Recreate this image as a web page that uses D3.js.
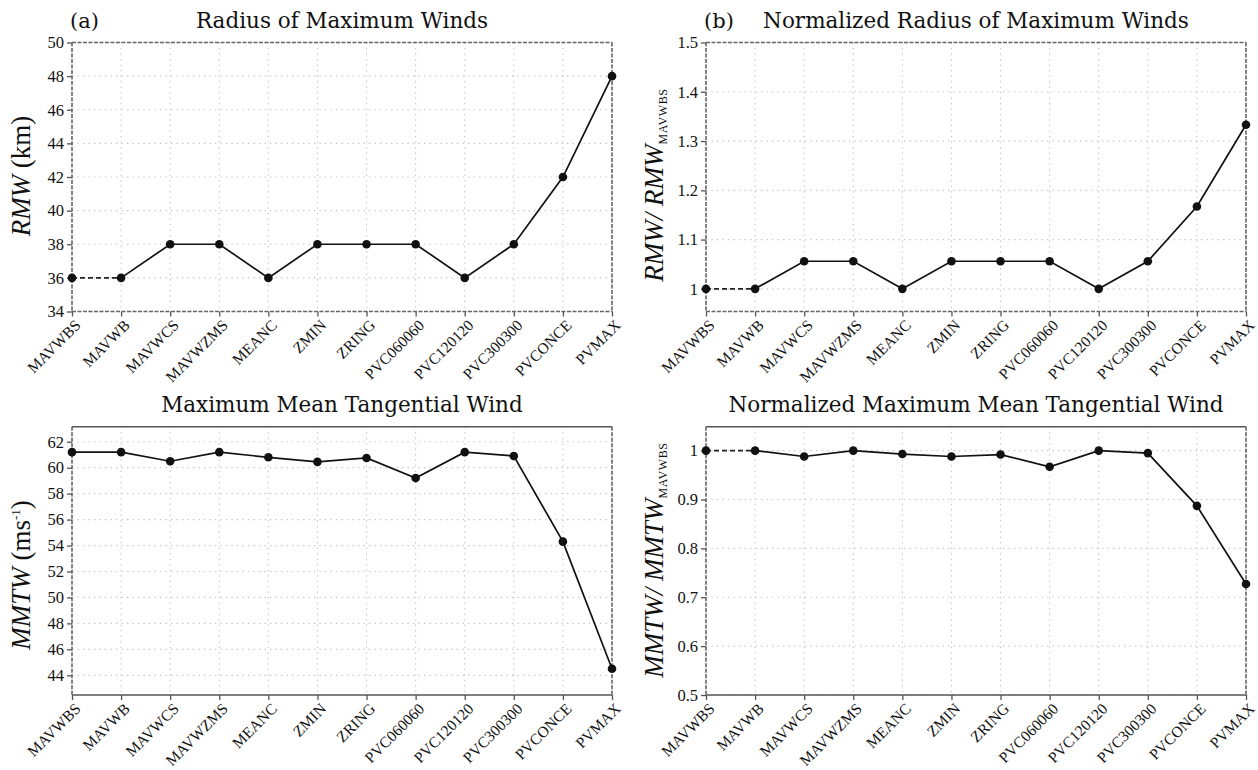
<!DOCTYPE html>
<html>
<head>
<meta charset="utf-8">
<script src="https://cdn.jsdelivr.net/npm/d3@7"></script>
<style>
  html, body { margin: 0; padding: 0; background: #fff; }
  svg { display: block; }
</style>
</head>
<body>
<svg id="chart" width="1258" height="770"></svg>
<script>
// Experiment names along the x axis
const experiments = ["MAVWBS", "MAVWB", "MAVWCS", "MAVWZMS", "MEANC", "ZMIN",
  "ZRING", "PVC060060", "PVC120120", "PVC300300", "PVCONCE", "PVMAX"];

// (a) radius of maximum winds, km
const rmw = [36, 36, 38, 38, 36, 38, 38, 38, 36, 38, 42, 48];
// (b) RMW normalised by the MAVWBS run
const rmwNorm = [1, 1, 1.056, 1.056, 1, 1.056, 1.056, 1.056, 1, 1.056, 1.167, 1.333];
// maximum mean tangential wind, m/s
const mmtw = [61.2, 61.2, 60.5, 61.2, 60.8, 60.45, 60.75, 59.2, 61.2, 60.9, 54.3, 44.5];
// MMTW normalised by the MAVWBS run
const mmtwNorm = [1, 1, 0.988, 1, 0.993, 0.988, 0.992, 0.967, 1, 0.995, 0.887, 0.727];

// y tick values per panel
const ticksA = [34, 36, 38, 40, 42, 44, 46, 48, 50];
const ticksB = [1, 1.1, 1.2, 1.3, 1.4, 1.5];
const ticksC = [44, 46, 48, 50, 52, 54, 56, 58, 60, 62];
const ticksD = [0.5, 0.6, 0.7, 0.8, 0.9, 1];

const svg = d3.select("#chart");
const serif = "'DejaVu Serif', serif";
const tickFont = "'Liberation Serif', 'Times New Roman', serif";

function panel(opt) {
  const g = svg.append("g");
  const x = d3.scalePoint().domain(experiments).range([opt.left, opt.right]);
  const y = d3.scaleLinear().domain(opt.domain).range([opt.bottom, opt.top]);

  // dotted grid
  g.append("g").selectAll("line").data(experiments).join("line")
    .attr("x1", d => x(d)).attr("x2", d => x(d))
    .attr("y1", opt.top).attr("y2", opt.bottom)
    .attr("stroke", "#c4c4c4").attr("stroke-width", 1.2)
    .attr("stroke-dasharray", "1.3,4.2");
  g.append("g").selectAll("line").data(opt.ticks).join("line")
    .attr("x1", opt.left).attr("x2", opt.right)
    .attr("y1", d => y(d)).attr("y2", d => y(d))
    .attr("stroke", "#c4c4c4").attr("stroke-width", 1.2)
    .attr("stroke-dasharray", "1.3,4.2");

  // axes
  const ya = g.append("g").attr("transform", `translate(${opt.left},0)`)
    .call(d3.axisLeft(y).tickValues(opt.ticks).tickSize(5).tickPadding(3)
      .tickFormat(d3.format("~g")));
  const xa = g.append("g").attr("transform", `translate(0,${opt.bottom})`)
    .call(d3.axisBottom(x).tickSize(5).tickFormat(""));
  [ya, xa].forEach(a => {
    a.select(".domain").remove();
    a.selectAll(".tick line").attr("stroke", "#555").attr("stroke-width", 1.3);
  });
  ya.selectAll(".tick text").attr("font-family", tickFont).attr("font-size", 16.5)
    .attr("fill", "#111");

  // rotated category labels
  g.append("g").selectAll("text").data(experiments).join("text")
    .attr("transform", d => `translate(${x(d) + 2},${opt.bottom + 7}) rotate(-45)`)
    .attr("text-anchor", "end").attr("dy", "0.7em")
    .attr("font-family", tickFont).attr("font-size", 15.5).attr("fill", "#111")
    .text(d => d);

  // frame
  const frame = (x1, y1, x2, y2, dashed) => g.append("line")
    .attr("x1", x1).attr("y1", y1).attr("x2", x2).attr("y2", y2)
    .attr("stroke", dashed ? "#666" : "#555").attr("stroke-width", 1.6)
    .attr("stroke-dasharray", dashed ? "4,1.5" : null);
  frame(opt.left, opt.top, opt.right, opt.top, opt.dashedTB);
  frame(opt.left, opt.bottom, opt.right, opt.bottom, opt.dashedTB);
  frame(opt.left, opt.top, opt.left, opt.bottom, true);
  frame(opt.right, opt.top, opt.right, opt.bottom, true);

  // series: the opening segment is drawn dashed in some panels
  const pts = opt.values.map((v, i) => [x(experiments[i]), y(v)]);
  const line = d3.line();
  const start = opt.dashedFirst ? 1 : 0;
  g.append("path").datum(pts.slice(start)).attr("d", line)
    .attr("fill", "none").attr("stroke", "#111").attr("stroke-width", 1.7);
  if (opt.dashedFirst) {
    g.append("path").datum(pts.slice(0, 2)).attr("d", line)
      .attr("fill", "none").attr("stroke", "#222").attr("stroke-width", 1.7)
      .attr("stroke-dasharray", "5,3");
  }
  g.append("g").selectAll("circle").data(pts).join("circle")
    .attr("cx", d => d[0]).attr("cy", d => d[1])
    .attr("r", 4.3).attr("fill", "#111");

  // title
  g.append("text").attr("x", (opt.left + opt.right) / 2).attr("y", opt.top - 15)
    .attr("text-anchor", "middle").attr("font-family", serif)
    .attr("font-size", 21.5).attr("fill", "#111").text(opt.title);
  if (opt.tag) {
    g.append("text").attr("x", opt.left - 2).attr("y", opt.top - 15)
      .attr("font-family", serif).attr("font-size", 21).attr("fill", "#111")
      .text(opt.tag);
  }

  // y axis label
  const lab = g.append("text")
    .attr("transform", `translate(${opt.labelX},${opt.labelY}) rotate(-90)`)
    .attr("text-anchor", "middle").attr("font-family", tickFont)
    .attr("font-size", 27).attr("fill", "#111");
  opt.label(lab);
}

const italic = (t, s) => t.append("tspan").attr("font-style", "italic").text(s);
const sub = (t, s) => t.append("tspan").attr("font-size", 12).attr("dy", 4)
  .attr("letter-spacing", 0.6).text(s);

panel({
  left: 72, right: 612, top: 42.5, bottom: 311.5, domain: [34, 50], ticks: ticksA,
  values: rmw, title: "Radius of Maximum Winds", tag: "(a)", dashedTB: true,
  dashedFirst: true, labelX: 30, labelY: 176,
  label: t => { italic(t, "RMW"); t.append("tspan").text(" (km)"); }
});
panel({
  left: 706, right: 1246, top: 42.5, bottom: 311.5, domain: [0.954, 1.5], ticks: ticksB,
  values: rmwNorm, title: "Normalized Radius of Maximum Winds", tag: "(b)", dashedTB: true,
  dashedFirst: true, labelX: 663, labelY: 185,
  label: t => { italic(t, "RMW/ RMW"); sub(t, "MAVWBS"); }
});
panel({
  left: 72, right: 612, top: 426.7, bottom: 695, domain: [42.48, 63.16], ticks: ticksC,
  values: mmtw, title: "Maximum Mean Tangential Wind", dashedTB: false,
  dashedFirst: false, labelX: 30, labelY: 575,
  label: t => {
    italic(t, "MMTW");
    t.append("tspan").text(" (ms");
    t.append("tspan").attr("font-size", 13).attr("dy", -10).text("-1");
    t.append("tspan").attr("dy", 10).text(")");
  }
});
panel({
  left: 706, right: 1246, top: 426.7, bottom: 695, domain: [0.5, 1.049], ticks: ticksD,
  values: mmtwNorm, title: "Normalized Maximum Mean Tangential Wind", dashedTB: false,
  dashedFirst: true, labelX: 663, labelY: 560,
  label: t => { italic(t, "MMTW/ MMTW"); sub(t, "MAVWBS"); }
});
</script>
</body>
</html>
